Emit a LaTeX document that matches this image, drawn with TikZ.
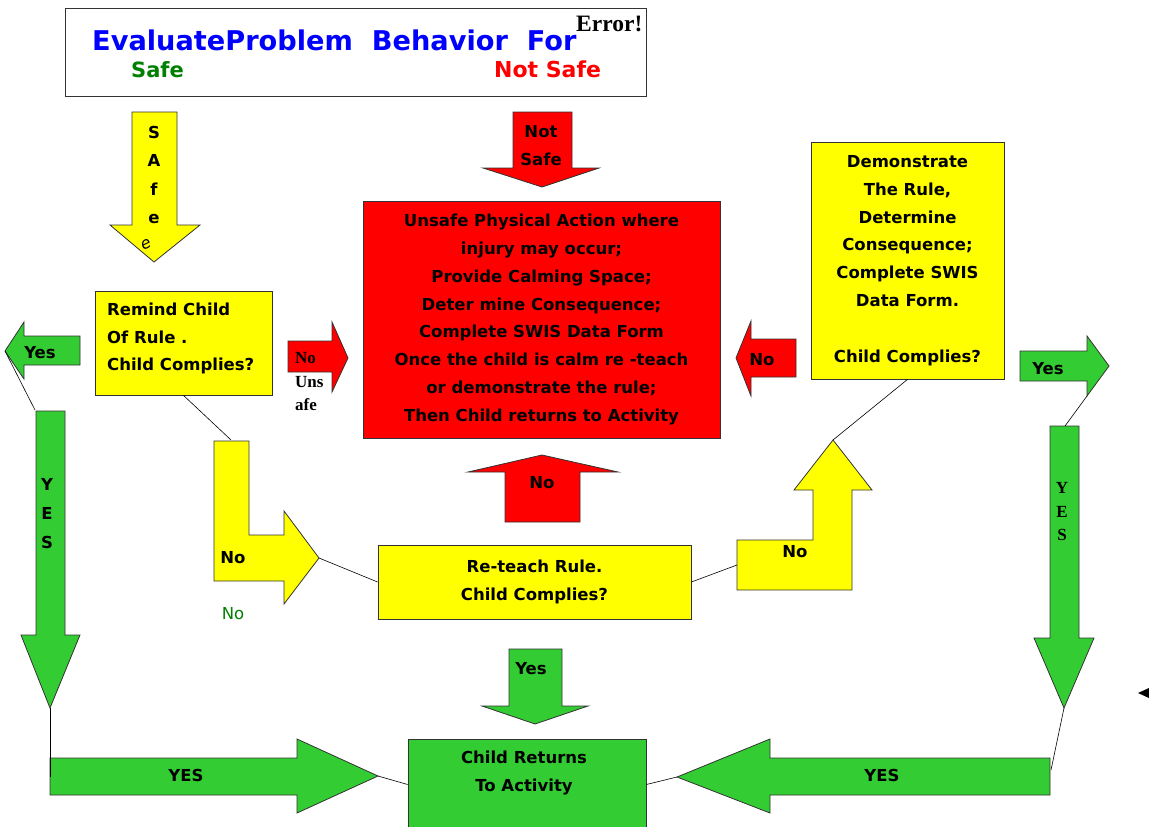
\documentclass[tikz,border=0pt]{standalone}
\usepackage{fontspec}
\setmainfont{DejaVu Sans}
\newfontfamily\tms{Liberation Serif}
\definecolor{cyel}{HTML}{FFFF00}
\definecolor{cred}{HTML}{FF0000}
\definecolor{cgrn}{HTML}{33CC33}
\definecolor{dgrn}{HTML}{008000}
\definecolor{tblue}{HTML}{0000FF}
\begin{document}
\begin{tikzpicture}[x=1pt,y=-1pt,
  outl/.style={draw=black!80,line width=0.8pt,line join=miter},
  yshape/.style={outl,fill=cyel},
  rshape/.style={outl,fill=cred},
  gshape/.style={outl,fill=cgrn},
  boxn/.style={outl,inner sep=0pt,align=center,font=\fontsize{16.5}{27.8}\selectfont\bfseries},
  lbl/.style={inner sep=0pt,align=center,font=\fontsize{16.5}{28}\selectfont\bfseries},
  conn/.style={draw=black,line width=0.6pt}]
\useasboundingbox (0,0) rectangle (1149,827);
% title
\node[outl,fill=white,minimum width=581pt,minimum height=88pt] (title) at (355.5,52) {};
\node[inner sep=0pt,anchor=base west,text=tblue,font=\fontsize{27.2}{30}\selectfont\bfseries] (ttxt) at (92,50) {EvaluateProblem\ \ Behavior\ \ For};
\node[inner sep=0pt,anchor=base west,font=\fontsize{23.5}{26}\selectfont\tms\bfseries] (err) at (576,31) {Error!};
\node[inner sep=0pt,anchor=base west,text=dgrn,font=\fontsize{21}{24}\selectfont\bfseries] (tsafe) at (131,77) {Safe};
\node[inner sep=0pt,anchor=base west,text=cred,font=\fontsize{22}{24}\selectfont\bfseries] (tnsafe) at (494,77) {Not Safe};
% boxes
\node[boxn,fill=cred,minimum width=357pt,minimum height=237pt] (red) at (541.5,319.5) {Unsafe Physical Action where\\injury may occur;\\Provide Calming Space;\\Deter mine Consequence;\\Complete SWIS Data Form\\Once the child is calm re -teach\\or demonstrate the rule;\\Then Child returns to Activity};
\node[boxn,fill=cyel,minimum width=193pt,minimum height=237pt] (demo) at (907.5,260.5) {Demonstrate\\The Rule,\\Determine\\Consequence;\\Complete SWIS\\Data Form.\\[27.8pt]Child Complies?};
\node[boxn,fill=cyel,minimum width=177pt,minimum height=104pt] (remind) at (183.5,343) {};
\node[lbl,align=left,anchor=west,font=\fontsize{16.5}{27.5}\selectfont\bfseries] (remtxt) at (107,338.5) {Remind Child\\Of Rule .\\Child Complies?};
\node[boxn,fill=cyel,minimum width=313pt,minimum height=74pt] (reteach) at (534.5,582) {Re-teach Rule.\\Child Complies?};
\node[boxn,fill=cgrn,minimum width=238pt,minimum height=91pt] (child) at (527,784.5) {};
\node[lbl] (childtxt) at (524,773) {Child Returns\\To Activity};
% arrows
\draw[yshape] (132,112) -- (177,112) -- (177,225) -- (200,225) -- (154,262) -- (110,225) -- (132,225) -- cycle;
\node[lbl,font=\fontsize{16.5}{28.3}\selectfont\bfseries] (safetxt) at (154,175) {S\\A\\f\\e};
\node[inner sep=0pt,rotate=25,font=\fontsize{16}{18}\selectfont\itshape] (safee) at (146,244) {e};
\draw[rshape] (513,112) -- (572,112) -- (572,168) -- (599,168) -- (542,187) -- (483,168) -- (513,168) -- cycle;
\node[lbl] (nstxt) at (541,146) {Not\\Safe};
% left yes
\draw[gshape] (80,336) -- (80,365) -- (24,365) -- (24,379) -- (5,351) -- (24,322) -- (24,336) -- cycle;
\coordinate (lyestip) at (5,351);
\node[lbl] (lyestxt) at (40,353) {Yes};
\draw[gshape] (36,411) -- (65,411) -- (65,635) -- (80,635) -- (50,708) -- (21,635) -- (36,635) -- cycle;
\coordinate (ldowntop) at (35,410);
\coordinate (ldowntip) at (50,708);
\node[lbl,font=\fontsize{16.5}{29}\selectfont\bfseries] (lyes3) at (47,514) {Y\\E\\S};
\draw[gshape] (50,758) -- (297,758) -- (297,739) -- (378,776) -- (297,813) -- (297,795) -- (50,795) -- cycle;
\coordinate (lbotstart) at (50,777);
\coordinate (lbottip) at (378,776);
\node[lbl] (lbottxt) at (186,775) {YES};
% right side
\draw[gshape] (1050,758) -- (770,758) -- (770,739) -- (677,777) -- (770,813) -- (770,795) -- (1050,795) -- cycle;
\coordinate (rbottip) at (677,777);
\coordinate (rbotend) at (1051,770);
\node[lbl] (rbottxt) at (882,775) {YES};
\draw[gshape] (1050,426) -- (1079,426) -- (1079,638) -- (1094,638) -- (1064,708) -- (1034,638) -- (1050,638) -- cycle;
\coordinate (rdowntop) at (1065,426);
\coordinate (rdowntip) at (1064,708);
\node[inner sep=0pt,align=center,font=\fontsize{17}{23.5}\selectfont\tms\bfseries] (ryes3) at (1062,512) {Y\\E\\S};
\draw[gshape] (1020,351) -- (1087,351) -- (1087,336) -- (1109,366) -- (1087,396) -- (1087,381) -- (1020,381) -- cycle;
\coordinate (ryesbot) at (1087,396);
\node[lbl] (ryestxt) at (1048,369) {Yes};
% red no left
\draw[rshape] (796,339) -- (751,339) -- (751,321) -- (736,358) -- (751,396) -- (751,377) -- (796,377) -- cycle;
\node[lbl] (rnotxt) at (762,360) {No};
% red no unsafe right
\draw[rshape] (288,341) -- (332,341) -- (332,322) -- (348,358) -- (332,392) -- (332,372) -- (288,372) -- cycle;
\node[inner sep=0pt,anchor=base west,font=\fontsize{17}{20}\selectfont\tms\bfseries] (uns1) at (295,363) {No};
\node[inner sep=0pt,anchor=base west,font=\fontsize{17}{20}\selectfont\tms\bfseries] (uns2) at (295,387) {Uns};
\node[inner sep=0pt,anchor=base west,font=\fontsize{17}{20}\selectfont\tms\bfseries] (uns3) at (295,410) {afe};
% red up no
\draw[rshape] (505,522) -- (505,472) -- (468,472) -- (542,455) -- (618,472) -- (580,472) -- (580,522) -- cycle;
\node[lbl] (upnotxt) at (542,483) {No};
% green yes down
\draw[gshape] (509,649) -- (562,649) -- (562,706) -- (588,706) -- (535,724) -- (482,706) -- (509,706) -- cycle;
\node[lbl] (gyestxt) at (531,669) {Yes};
% left yellow L
\draw[yshape] (214,441) -- (249,441) -- (249,535) -- (284,535) -- (284,511) -- (319,558) -- (284,604) -- (284,581) -- (214,581) -- cycle;
\coordinate (lLtop) at (231,440);
\coordinate (lLtip) at (319,558);
\node[lbl] (lLtxt) at (233,558) {No};
\node[inner sep=0pt,text=dgrn,font=\fontsize{16.5}{18}\selectfont] (gno) at (233,614) {No};
% right yellow L
\draw[yshape] (737,540) -- (813,540) -- (813,490) -- (794,490) -- (833,440) -- (872,490) -- (852,490) -- (852,590) -- (737,590) -- cycle;
\coordinate (rLtip) at (833,440);
\coordinate (rLleft) at (737,565);
\node[lbl] (rLtxt) at (795,552) {No};
% small triangle
\fill[black] (1138,693) -- (1149,688) -- (1149,698) -- cycle;
% connectors
\draw[conn] (lyestip) -- (ldowntop);
\draw[conn] (ldowntip) -- (lbotstart);
\draw[conn] (lbottip) -- (child.west);
\draw[conn] (rbottip) -- (child.east);
\draw[conn] (rbotend) -- (rdowntip);
\draw[conn] (ryesbot) -- (rdowntop);
\draw[conn] (demo.south) -- (rLtip);
\draw[conn] (reteach.east) -- (rLleft);
\draw[conn] (lLtip) -- (reteach.west);
\draw[conn] (remind.south) -- (lLtop);
\end{tikzpicture}
\end{document}
